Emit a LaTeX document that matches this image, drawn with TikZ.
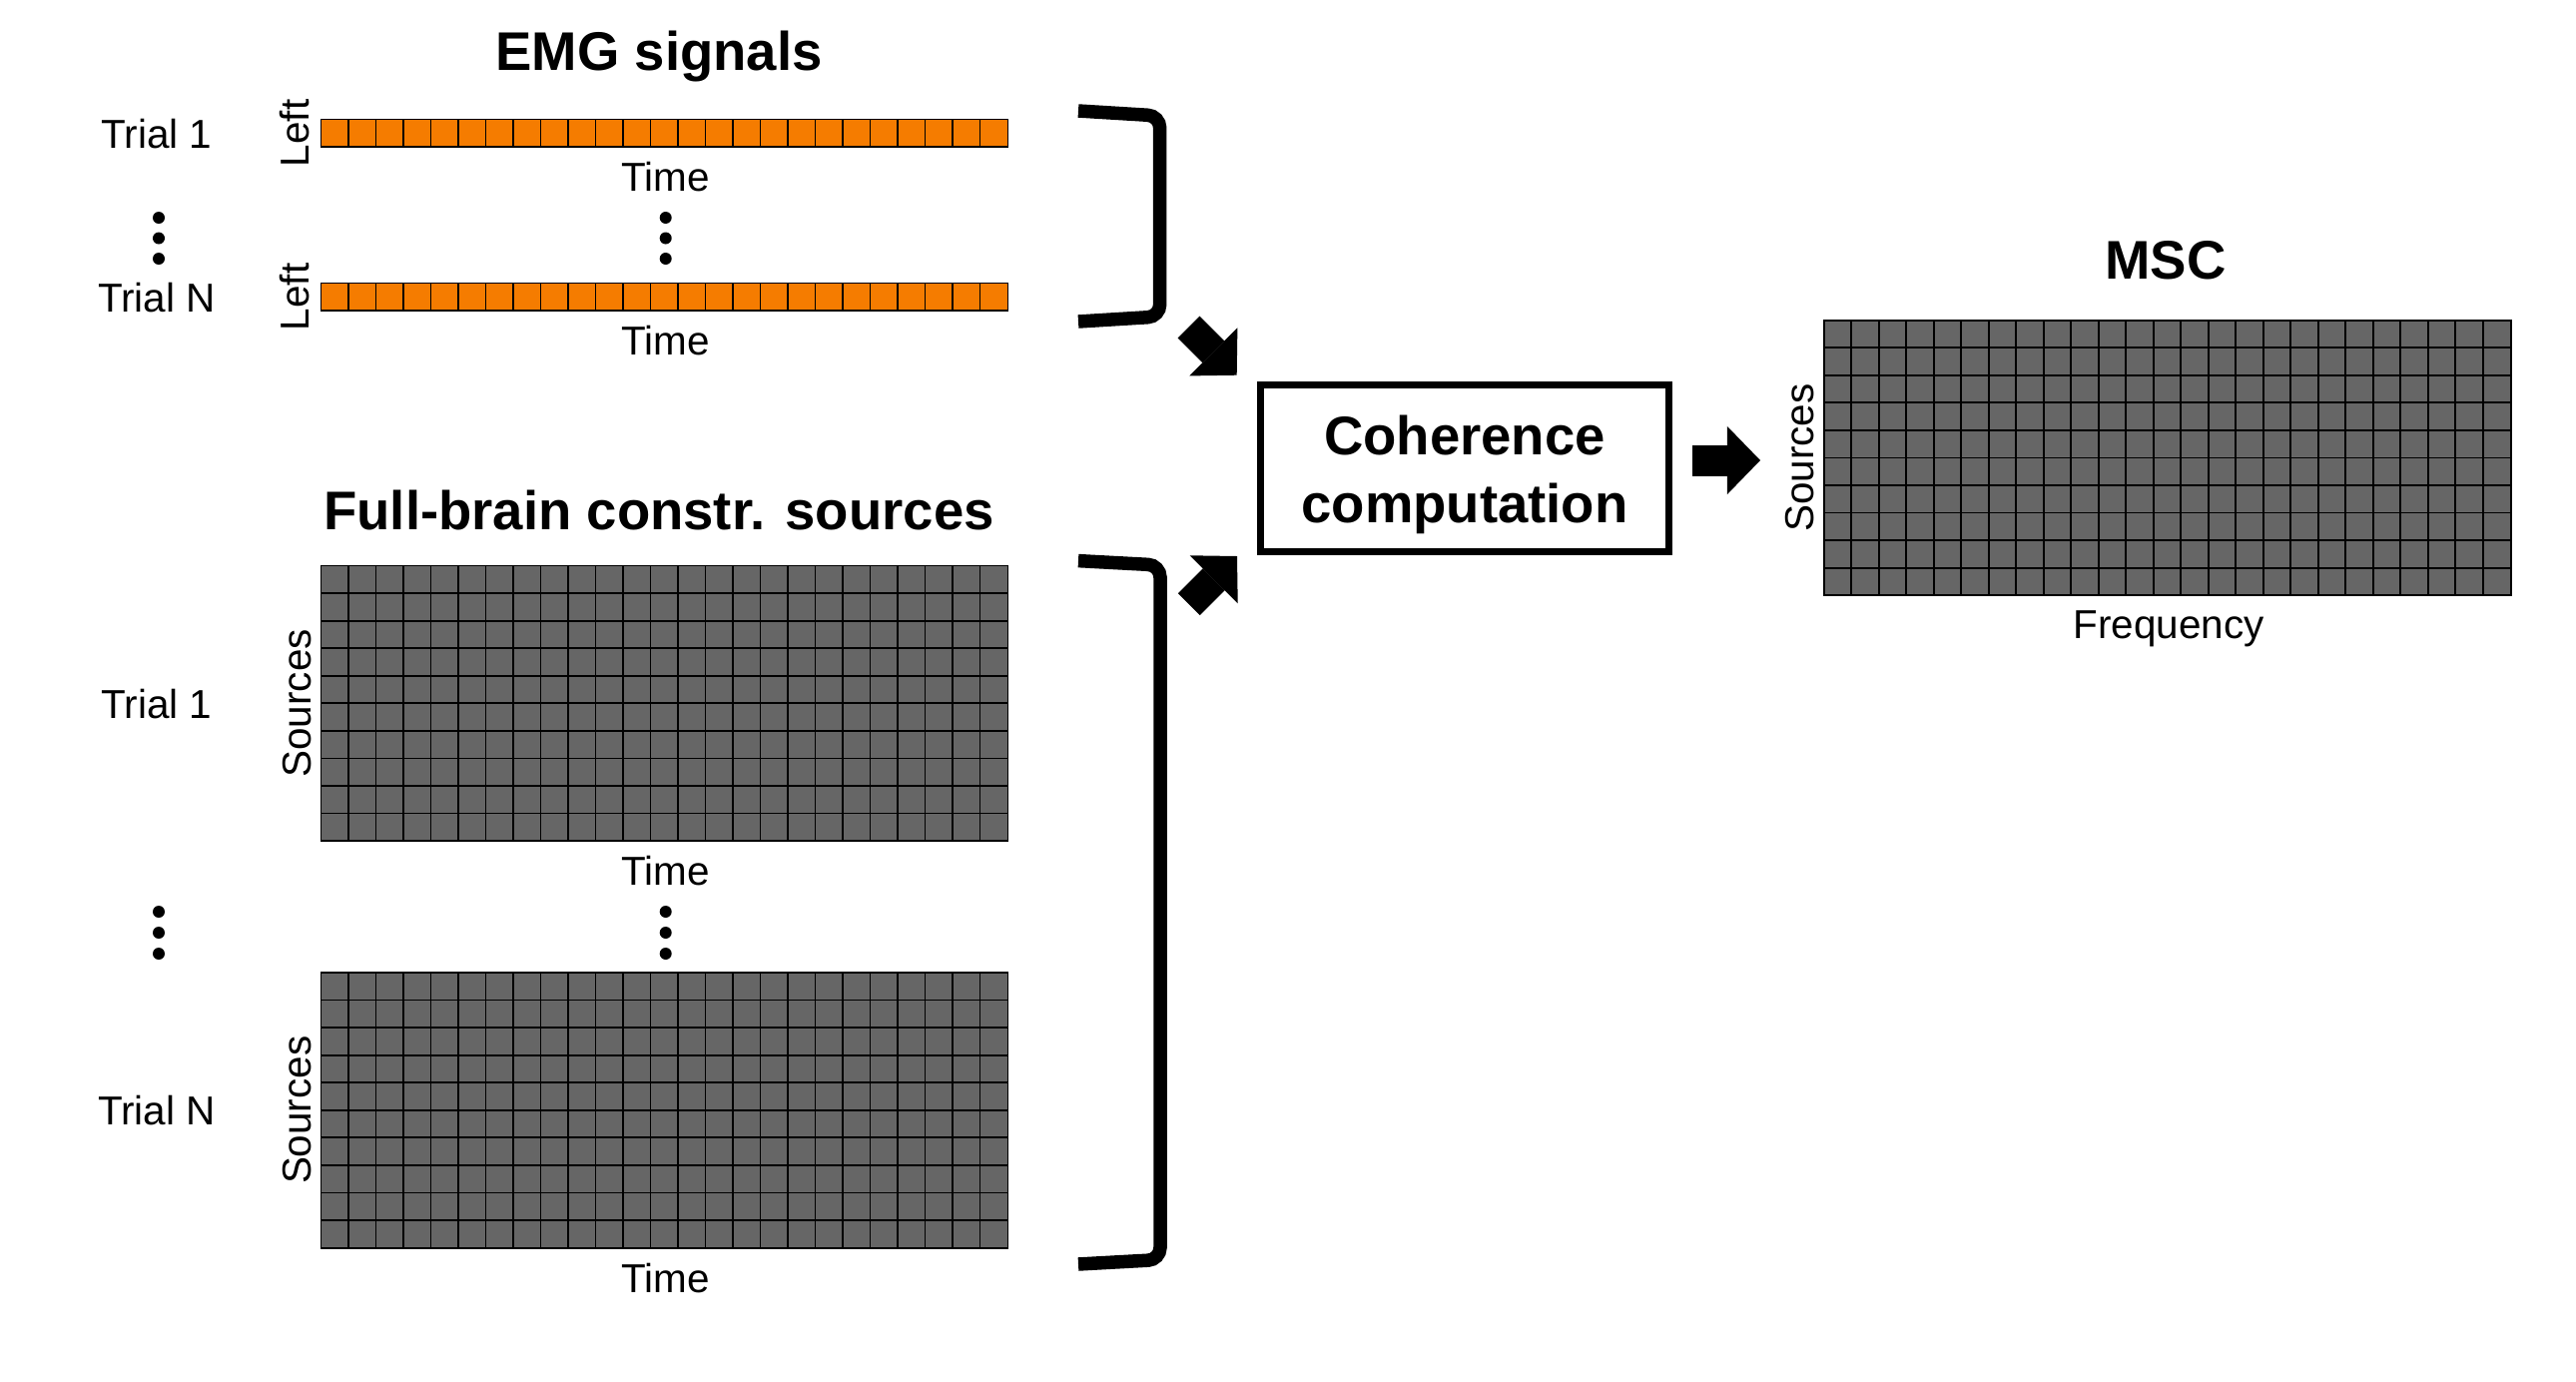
\documentclass[tikz,border=0pt]{standalone}
\usepackage{fontspec}
\setmainfont{Liberation Sans}
\usetikzlibrary{calc,arrows.meta}
\definecolor{emgorange}{RGB}{245,124,0}
\definecolor{cellgray}{RGB}{102,102,102}
\newcommand\gridcols[1]{\foreach \i in {1,...,24}{\draw[cellline] ($(#1.north west)+(\i*27.5,0)$) -- ($(#1.south west)+(\i*27.5,0)$);}}
\newcommand\gridrows[1]{\foreach \j in {1,...,9}{\draw[cellline] ($(#1.north west)+(0,\j*27.55)$) -- ($(#1.north east)+(0,\j*27.55)$);}}
\begin{document}
\begin{tikzpicture}[x=0.01cm,y=-0.01cm,
  lbl/.style={font=\fontsize{11.5pt}{13.8pt}\selectfont, inner sep=0pt},
  ttl/.style={font=\fontsize{15.5pt}{18.6pt}\selectfont\bfseries, inner sep=0pt},
  cellbox/.style={draw=black, line width=0.5pt, inner sep=0pt, outer sep=0pt, minimum width=6.875cm},
  emgbar/.style={cellbox, fill=emgorange, minimum height=0.276cm},
  srcgrid/.style={cellbox, fill=cellgray, minimum height=2.755cm},
  cellline/.style={black, line width=0.5pt},
  bracketline/.style={line width=0.135cm, rounded corners=0.12cm},
  blockarrow/.style={line width=0.31cm, -{Triangle[length=0.33cm, width=0.68cm, line width=0pt]}},
  cohbox/.style={draw=black, line width=0.07cm, minimum width=4.09cm, minimum height=1.67cm, inner sep=0pt},
  dot/.style={circle, fill=black, inner sep=0pt, minimum size=0.12cm}
]
\useasboundingbox[fill=white] (0,0) rectangle (2580,1384);

% ---------- EMG signals ----------
\node[ttl, anchor=base] (tEMG) at (660,70) {EMG signals};

\node[emgbar] (emg1) at (665.5,133.3) {};
\gridcols{emg1}
\node[emgbar] (emgN) at (665.5,297.3) {};
\gridcols{emgN}

\node[lbl, anchor=base] (tr1a) at (157,148.3) {Trial 1};
\node[lbl, anchor=base] (trNa) at (157,312) {Trial N};
\node[lbl, rotate=90, anchor=base] (lf1) at (309,133.3) {Left};
\node[lbl, rotate=90, anchor=base] (lfN) at (309,297.3) {Left};
\node[lbl, anchor=base] (tm1) at (666.7,191.3) {Time};
\node[lbl, anchor=base] (tm2) at (666.7,355.3) {Time};

\node[dot] (da1) at (159,218) {};
\node[dot] (da2) at (159,238.5) {};
\node[dot] (da3) at (159,259) {};
\node[dot] (db1) at (666.7,218) {};
\node[dot] (db2) at (666.7,238.5) {};
\node[dot] (db3) at (666.7,259) {};

% ---------- Full-brain sources ----------
\node[ttl, anchor=base] (tFB) at (660,530) {Full-brain constr. sources};

\node[srcgrid] (src1) at (665.5,704.4) {};
\gridcols{src1}\gridrows{src1}
\node[srcgrid] (srcN) at (665.5,1111.8) {};
\gridcols{srcN}\gridrows{srcN}

\node[lbl, anchor=base] (tr1b) at (157,719.7) {Trial 1};
\node[lbl, anchor=base] (trNb) at (157,1126.7) {Trial N};
\node[lbl, rotate=90, anchor=base] (so1) at (311,704.4) {Sources};
\node[lbl, rotate=90, anchor=base] (soN) at (311,1111.8) {Sources};
\node[lbl, anchor=base] (tm3) at (666.7,886.7) {Time};
\node[lbl, anchor=base] (tm4) at (666.7,1294) {Time};

\node[dot] (dc1) at (159,913) {};
\node[dot] (dc2) at (159,934) {};
\node[dot] (dc3) at (159,955) {};
\node[dot] (dd1) at (666.7,913) {};
\node[dot] (dd2) at (666.7,934) {};
\node[dot] (dd3) at (666.7,955) {};

% ---------- brackets ----------
\draw[bracketline] (1080,111) -- (1161.7,116) -- (1161.7,317) -- (1080,322);
\draw[bracketline] (1080,561.6) -- (1162,566) -- (1162,1261.5) -- (1080,1266);

% ---------- coherence box ----------
\node[cohbox] (coh) at (1467,469) {};
\node[ttl, anchor=base] (coht1) at (1467,455) {Coherence};
\node[ttl, anchor=base] (coht2) at (1467,523) {computation};

\coordinate (a1s) at (1190.5,327.5);
\coordinate (a1e) at (1238.7,375.7);
\coordinate (a2s) at (1190.8,605.2);
\coordinate (a2e) at (1239,557);
\coordinate (a3s) at (1695,461);
\coordinate (a3e) at (1763,461);
\draw[blockarrow] (a1s) -- (a1e);
\draw[blockarrow] (a2s) -- (a2e);
\draw[blockarrow] (a3s) -- (a3e);

% ---------- MSC ----------
\node[ttl, anchor=base] (tMSC) at (2169,279) {MSC};
\node[srcgrid] (msc) at (2170.7,458.5) {};
\gridcols{msc}\gridrows{msc}
\node[lbl, rotate=90, anchor=base] (som) at (1816,458.5) {Sources};
\node[lbl, anchor=base] (freq) at (2172,639) {Frequency};
\end{tikzpicture}
\end{document}
